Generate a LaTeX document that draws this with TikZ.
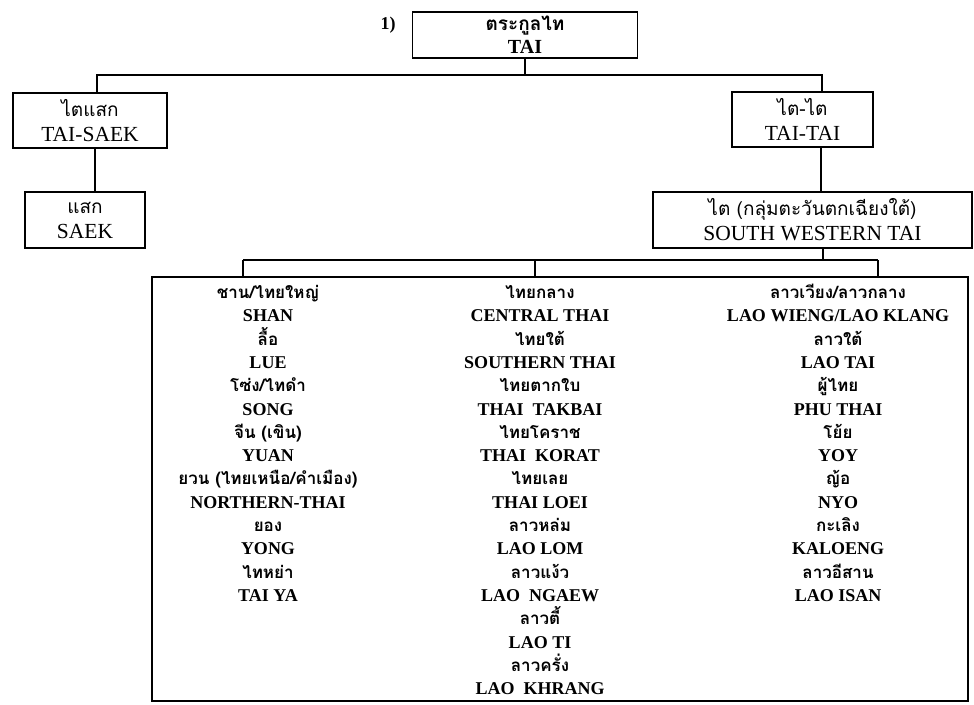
\documentclass[tikz,border=0pt]{standalone}
\usepackage{fontspec}
\setmainfont{Liberation Serif}
\newfontfamily\thaifont[Script=Thai]{Loma}
\newcommand\thx[1]{{\thaifont\fontsize{19}{25}\selectfont #1}}
\newcommand\thl[1]{{\thaifont\fontsize{17}{20}\selectfont #1}}
\begin{document}
\begin{tikzpicture}[x=1pt,y=-1pt,
  famb/.style={draw, line width=1.4pt, inner sep=0pt, align=center,
    font=\fontsize{21.5}{25}\selectfont},
  wire/.style={line width=1.4pt},
  item/.style={anchor=base, inner sep=0pt, font=\bfseries\fontsize{18}{20}\selectfont}]
\useasboundingbox (0,0) rectangle (974,704);

% family tree boxes
\node[famb, minimum width=225pt, minimum height=46pt,
      font=\bfseries\fontsize{20}{23}\selectfont] (tai) at (525,35) {\thx{ตระกูลไท}\\TAI};
\node[font=\bfseries\fontsize{18}{20}\selectfont, inner sep=0pt] (num) at (388,25) {1)};
\node[famb, minimum width=154pt, minimum height=55pt] (taisaek) at (90,120.5) {\thx{ไตแสก}\\TAI-SAEK};
\node[famb, minimum width=120pt, minimum height=56pt] (saek) at (85,220) {\thx{แสก}\\SAEK};
\node[famb, minimum width=141pt, minimum height=55pt] (taitai) at (802.5,119.5) {\thx{ไต-ไต}\\TAI-TAI};
\node[famb, minimum width=319pt, minimum height=56pt] (swt) at (812.5,220)
  {\thx{ไต (กลุ่มตะวันตกเฉียงใต้)}\\SOUTH WESTERN TAI};
\node[draw, line width=2.6pt, minimum width=816pt, minimum height=424pt, inner sep=0pt]
  (group) at (560,489) {};

% connectors
\coordinate (jl) at (97,75);
\coordinate (jr) at (822,75);
\coordinate (jm) at (tai.south |- jl);
\coordinate (xl) at (95,0);
\coordinate (xr) at (821,0);
\coordinate (bs) at (823,260);
\coordinate (b1) at (243,260);
\coordinate (b2) at (535,260);
\coordinate (b3) at (878,260);
\draw[wire] (tai.south) -- (jm);
\draw[wire] (jl |- taisaek.north) -- (jl) -- (jr) -- (jr |- taitai.north);
\draw[wire] (xl |- taisaek.south) -- (xl |- saek.north);
\draw[wire] (xr |- taitai.south) -- (xr |- swt.north);
\draw[wire] (bs |- swt.south) -- (bs);
\draw[wire] (b1) -- (b3);
\foreach \b in {b1,b2,b3} \draw[wire] (\b) -- (\b |- group.north);

% language lists
\foreach \t [count=\i from 0] in {\thl{ชาน/ไทยใหญ่}, SHAN, \thl{ลื้อ}, LUE,
    \thl{โซ่ง/ไทดำ}, SONG, \thl{จีน (เขิน)}, YUAN,
    \thl{ยวน (ไทยเหนือ/คำเมือง)}, NORTHERN-THAI, \thl{ยอง}, YONG, \thl{ไทหย่า}, TAI YA}
  \node[item] (ca\i) at (268,298.5+23.3*\i) {\t};
\foreach \t [count=\i from 0] in {\thl{ไทยกลาง}, CENTRAL THAI, \thl{ไทยใต้}, SOUTHERN THAI,
    \thl{ไทยตากใบ}, THAI\ \ TAKBAI, \thl{ไทยโคราช}, THAI\ \ KORAT, \thl{ไทยเลย}, THAI LOEI,
    \thl{ลาวหล่ม}, LAO LOM, \thl{ลาวแง้ว}, LAO\ \ NGAEW, \thl{ลาวตี้}, LAO TI,
    \thl{ลาวครั่ง}, LAO\ \ KHRANG}
  \node[item] (cb\i) at (540,298.5+23.3*\i) {\t};
\foreach \t [count=\i from 0] in {\thl{ลาวเวียง/ลาวกลาง}, LAO WIENG/LAO KLANG,
    \thl{ลาวใต้}, LAO TAI, \thl{ผู้ไทย}, PHU THAI, \thl{โย้ย}, YOY, \thl{ญ้อ}, NYO,
    \thl{กะเลิง}, KALOENG, \thl{ลาวอีสาน}, LAO ISAN}
  \node[item] (cc\i) at (838,298.5+23.3*\i) {\t};
\end{tikzpicture}
\end{document}
